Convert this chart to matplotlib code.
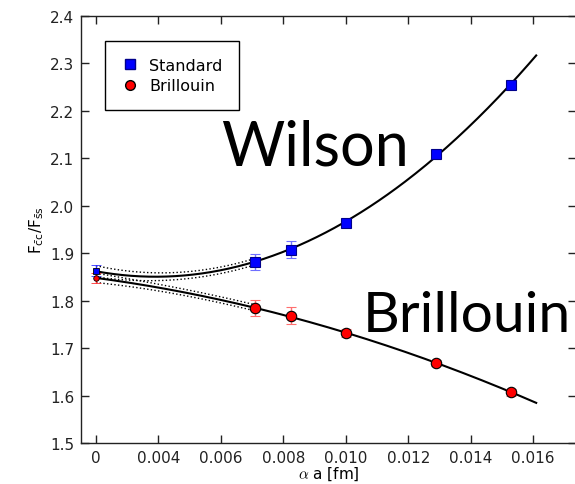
import numpy as np
import matplotlib
matplotlib.use("Agg")
import matplotlib.pyplot as plt
from matplotlib.lines import Line2D

plt.rcParams["mathtext.fontset"] = "cm"

# lattice spacings (alpha a [fm]) and measured ratios
alpha_a = np.array([0.0071, 0.00825, 0.0100, 0.0129, 0.0153])
wilson = np.array([1.882, 1.907, 1.964, 2.110, 2.255])
wilson_err = np.array([0.017, 0.018, 0.008, 0.008, 0.008])
brill = np.array([1.785, 1.768, 1.732, 1.669, 1.607])
brill_err = np.array([0.017, 0.018, 0.008, 0.007, 0.007])

# continuum-limit values at alpha a = 0
wilson_0, wilson_0_err = 1.863, 0.012
brill_0, brill_0_err = 1.848, 0.010

xtick_vals = [0, 0.004, 0.006, 0.008, 0.010, 0.012, 0.014, 0.016]
xtick_labels = ["0", "0.004", "0.006", "0.008", "0.010", "0.012", "0.014", "0.016"]
curve_end = 0.0161


def pos(x):
    # axis is compressed below 0.004: "0" sits one tick left of 0.004
    x = np.asarray(x, dtype=float)
    return np.where(x < 0.004, x / 2, x - 0.002)


def quad_fit(x, y, err, y0, err0):
    px = np.concatenate([[0.0], pos(x)])
    py = np.concatenate([[y0], y])
    pe = np.concatenate([[err0], err])
    return np.polyfit(px, py, 2, w=1 / pe, cov="unscaled")


def band(coef, cov, xs):
    v = np.vstack([xs ** 2, xs, np.ones_like(xs)])
    return np.polyval(coef, xs), np.sqrt(np.einsum("ij,ik,kj->j", v, cov, v))


fig = plt.figure(figsize=(5.75, 4.85), dpi=100)
ax = fig.add_axes([0.1409, 0.0845, 0.8611, 0.8804])

xs = np.linspace(0, float(pos(curve_end)), 300)
xe = np.linspace(0, float(pos(alpha_a.min())), 100)  # extrapolation range
for y, e, y0, e0 in [(wilson, wilson_err, wilson_0, wilson_0_err),
                     (brill, brill_err, brill_0, brill_0_err)]:
    coef, cov = quad_fit(alpha_a, y, e, y0, e0)
    fy, _ = band(coef, cov, xs)
    ax.plot(xs, fy, color="k", lw=1.5, zorder=2)
    fe, sig = band(coef, cov, xe)
    ax.plot(xe, fe + sig, color="k", lw=1, ls=":", zorder=2)
    ax.plot(xe, fe - sig, color="k", lw=1, ls=":", zorder=2)

err_kw = dict(linestyle="none", capsize=3.5, elinewidth=1, capthick=1, zorder=3)
ax.errorbar(pos(alpha_a), wilson, yerr=wilson_err, fmt="s", color="#0000ff",
            ecolor="#6f6fff", ms=7.5, mec="#00008b", mew=0.8, **err_kw)
ax.errorbar(pos(alpha_a), brill, yerr=brill_err, fmt="o", color="#ff0000",
            ecolor="#ff6f6f", ms=7.5, mec="#000000", mew=0.8, **err_kw)
ax.errorbar(pos([0]), [wilson_0], yerr=[wilson_0_err], fmt="s", color="#0000ff",
            ecolor="#3030ff", ms=4, mec="#000000", mew=0.6, **err_kw)
ax.errorbar(pos([0]), [brill_0], yerr=[brill_0_err], fmt="o", color="#ff0000",
            ecolor="#ff3030", ms=4, mec="#000000", mew=0.6, **err_kw)

ax.set_xlim(-0.00048, 0.01538)
ax.set_ylim(1.5, 2.4)
ax.set_xticks(pos(xtick_vals))
ax.set_xticklabels(xtick_labels)
ax.set_yticks(np.arange(1.5, 2.41, 0.1))
ax.set_yticklabels(["%.1f" % v for v in np.arange(1.5, 2.41, 0.1)])
ax.tick_params(direction="in", length=6, width=1, top=True, right=True,
               labelsize=11, colors="#222222", pad=5)
for s in ax.spines.values():
    s.set_linewidth(1)
    s.set_color("#222222")

ax.set_xlabel(r"$\alpha$ a [fm]", fontsize=11, labelpad=0)
ax.set_ylabel(r"$\mathregular{F_{\bar{c}c}/F_{\bar{s}s}}$", fontsize=11, labelpad=3)

handles = [
    Line2D([], [], marker="s", ls="none", color="#0000ff", mec="#00008b", ms=7),
    Line2D([], [], marker="o", ls="none", color="#ff0000", mec="#000000", ms=7),
]
leg = ax.legend(handles, ["Standard", "Brillouin"], loc="upper left",
                bbox_to_anchor=(0.0486, 0.9415), borderaxespad=0,
                fontsize=11.5, numpoints=1, fancybox=False, edgecolor="k",
                framealpha=1, handlelength=1.0, handletextpad=0.7,
                borderpad=1.05, labelspacing=0.35)
leg.get_frame().set_linewidth(1)

ax.text(pos(0.0060), 2.087, "Wilson", fontsize=44, family="Lato",
        va="baseline", ha="left")
ax.text(pos(0.01055), 1.736, "Brillouin", fontsize=41, family="Lato",
        va="baseline", ha="left")

fig.savefig("out.png", dpi=100)
